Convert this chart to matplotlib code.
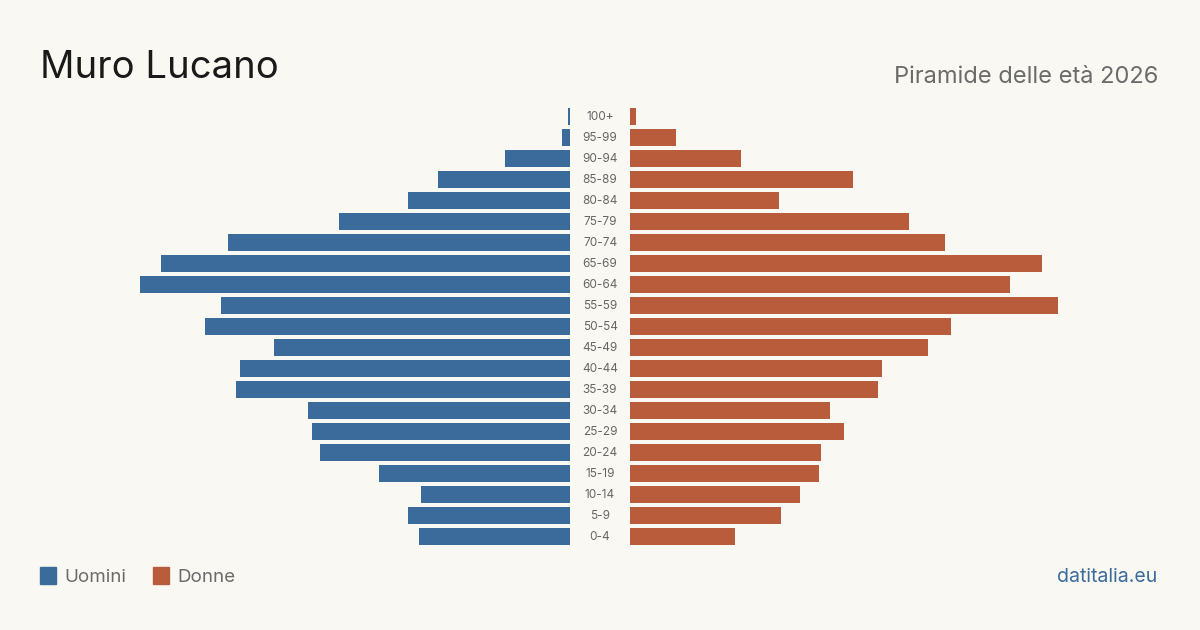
import matplotlib
matplotlib.use("Agg")
import matplotlib.pyplot as plt
from matplotlib.patches import Rectangle

plt.rcParams['font.family'] = ['Inter', 'DejaVu Sans']

age_groups = ["100+", "95-99", "90-94", "85-89", "80-84", "75-79", "70-74", "65-69",
              "60-64", "55-59", "50-54", "45-49", "40-44", "35-39", "30-34", "25-29",
              "20-24", "15-19", "10-14", "5-9", "0-4"]
men = [1, 4, 31, 63, 77, 110, 163, 195, 205, 166, 174, 141, 157, 159, 125, 123,
       119, 91, 71, 77, 72]
women = [3, 22, 53, 106, 71, 133, 150, 196, 181, 204, 153, 142, 120, 118, 95, 102,
         91, 90, 81, 72, 50]

title = "Muro Lucano"
subtitle = "Piramide delle età 2026"
legend_labels = ["Uomini", "Donne"]
source = "datitalia.eu"

BG = "#f9f8f3"
BLUE = "#3b6b9b"
ORANGE = "#b95c3c"

W, H = 1200, 630
fig = plt.figure(figsize=(W / 100, H / 100), dpi=100, facecolor=BG)

px_per_unit = 2.1
span_px = 470
top_px, bot_px = 106, 547

def ax_rect(x0, x1):
    return [x0 / W, 1 - bot_px / H, (x1 - x0) / W, (bot_px - top_px) / H]

axL = fig.add_axes(ax_rect(570 - span_px, 570))
axR = fig.add_axes(ax_rect(630, 630 + span_px))
n = len(age_groups)
ypos = list(range(n))
for ax, vals, col in [(axL, men, BLUE), (axR, women, ORANGE)]:
    ax.barh(ypos, vals, height=17 / 21, color=col)
    ax.set_ylim(n - 0.5, -0.5)
    ax.set_facecolor("none")
    ax.axis("off")
axL.set_xlim(span_px / px_per_unit, 0)
axR.set_xlim(0, span_px / px_per_unit)

for i, lab in enumerate(age_groups):
    y = (top_px + 11 + 21 * i)
    fig.text(600 / W, 1 - y / H, lab, ha="center", va="center",
             fontsize=8.5, color="#666666")

fig.text(40 / W, 1 - 68 / H, title, ha="left", va="center", fontsize=27.5,
         color="#1a1a1a")
fig.text(1158 / W, 1 - 77 / H, subtitle, ha="right", va="center", fontsize=17,
         color="#6b6b6b")

for (x, lab, col) in [(40, legend_labels[0], BLUE), (153, legend_labels[1], ORANGE)]:
    fig.patches.append(Rectangle((x / W, 1 - 584 / H), 16 / W, 17 / H,
                                 transform=fig.transFigure, color=col))
    fig.text((x + 24) / W, 1 - 577 / H, lab, ha="left", va="center",
             fontsize=13.5, color="#6b6b6b")

fig.text(1157 / W, 1 - 577 / H, source, ha="right", va="center", fontsize=14,
         color=BLUE)

fig.savefig("out.png", dpi=100, facecolor=BG)
